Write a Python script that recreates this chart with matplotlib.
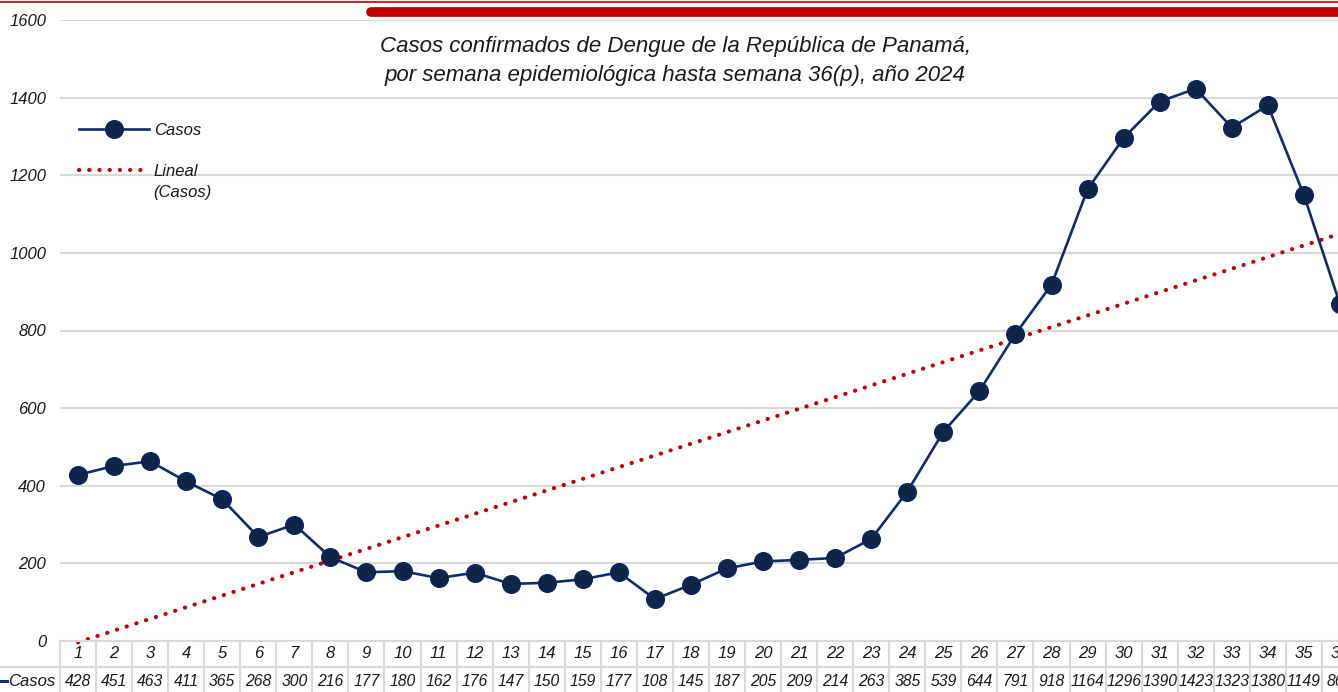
import numpy as np
import matplotlib
matplotlib.use("Agg")
from matplotlib import pyplot as plt
from matplotlib.lines import Line2D
import matplotlib.transforms as mtransforms

# datos: casos de dengue por semana epidemiológica 2024
semanas = list(range(1, 37))
casos = [428, 451, 463, 411, 365, 268, 300, 216, 177, 180, 162, 176, 147, 150,
         159, 177, 108, 145, 187, 205, 209, 214, 263, 385, 539, 644, 791, 918,
         1164, 1296, 1390, 1423, 1323, 1380, 1149, 868]
yticks = [0, 200, 400, 600, 800, 1000, 1200, 1400, 1600]
titulo = ("Casos confirmados de Dengue de la República de Panamá,\n"
          "por semana epidemiológica hasta semana 36(p), año 2024")

W, H = 1338, 692
azul = '#0F2D69'
rojo = '#C00000'
gris = '#D9D9D9'
texto = '#1A1A1A'

plt.rcParams['font.family'] = ['Liberation Sans', 'DejaVu Sans']
plt.rcParams['font.style'] = 'italic'

fig = plt.figure(figsize=(W / 100, H / 100), dpi=100)
# el área del gráfico se sale por la derecha (recortado en el original)
ax = fig.add_axes([60 / W, (H - 641) / H, 1298 / W, 621 / H])

x = np.array(semanas)
y = np.array(casos)
ax.plot(x, y, color=azul, lw=1.9, marker='o', markersize=12.5,
        markerfacecolor='#0E2548', markeredgecolor='#0A2463', markeredgewidth=1.2,
        label='Casos', zorder=3)

# línea de tendencia lineal
m, b = np.polyfit(x, y, 1)
xt = np.array([1, 36.5])
ax.plot(xt, m * xt + b, color=rojo, lw=3, linestyle=(0, (0.05, 2.4)),
        dash_capstyle='round', label='Lineal', zorder=2, clip_on=False)

ax.set_xlim(0.5, 36.5)
ax.set_ylim(0, 1600)
ax.set_yticks(yticks)
ax.set_yticklabels([str(v) for v in yticks], fontsize=12, color=texto)
ax.tick_params(axis='y', length=0, pad=10)
ax.set_xticks([])
ax.grid(axis='y', color=gris, lw=1.5)
ax.set_axisbelow(True)
for s in ax.spines.values():
    s.set_visible(False)

leg = ax.legend(loc='upper left', bbox_to_anchor=(12 / 1298, (641 - 116) / 621),
                frameon=False, fontsize=12, handlelength=4.2, handletextpad=0.3,
                labelspacing=1.55, borderaxespad=0)
for t in leg.get_texts():
    t.set_color(texto)
fig.text(153 / W, (H - 192) / H, '(Casos)', ha='left', va='center', fontsize=12,
         color=texto)

fig.text(675 / W, (H - 61) / H, titulo, ha='center', va='center', fontsize=16,
         color=texto, linespacing=1.45)

# tabla de datos debajo del eje
tr = mtransforms.blended_transform_factory(ax.transData, fig.transFigure)
def fy(py):
    return (H - py) / H

edges = np.arange(0.5, 37.5, 1)
for e in edges:
    ax.add_artist(Line2D([e, e], [fy(641), fy(H + 5)], transform=tr, color=gris,
                         lw=1.5, clip_on=False))
for py in [641, 666.5]:
    ax.add_artist(Line2D([0.5, 36.5], [fy(py), fy(py)], transform=tr, color=gris,
                         lw=1.5, clip_on=False))
ax.add_artist(Line2D([-1.5, 0.5], [fy(666.5), fy(666.5)], transform=tr, color=gris,
                     lw=1.5, clip_on=False))
for s, c in zip(semanas, casos):
    ax.text(s, fy(654), str(s), transform=tr, ha='center', va='center',
            fontsize=12, color=texto, clip_on=False)
    ax.text(s, fy(681), str(c), transform=tr, ha='center', va='center',
            fontsize=11.3, color=texto, clip_on=False)
ax.text(0.36, fy(681), 'Casos', transform=tr, ha='right', va='center',
        fontsize=12, color=texto, clip_on=False)
fig.add_artist(Line2D([0, 7 / W], [fy(681), fy(681)], color=azul, lw=2.2))

# franja roja superior
fig.add_artist(Line2D([0, 1], [fy(1.5), fy(1.5)], color=rojo, lw=1.2))
fig.add_artist(Line2D([371 / W, 1.02], [fy(12), fy(12)], color=rojo, lw=7,
                      solid_capstyle='round'))

fig.savefig('out.png', dpi=100)
